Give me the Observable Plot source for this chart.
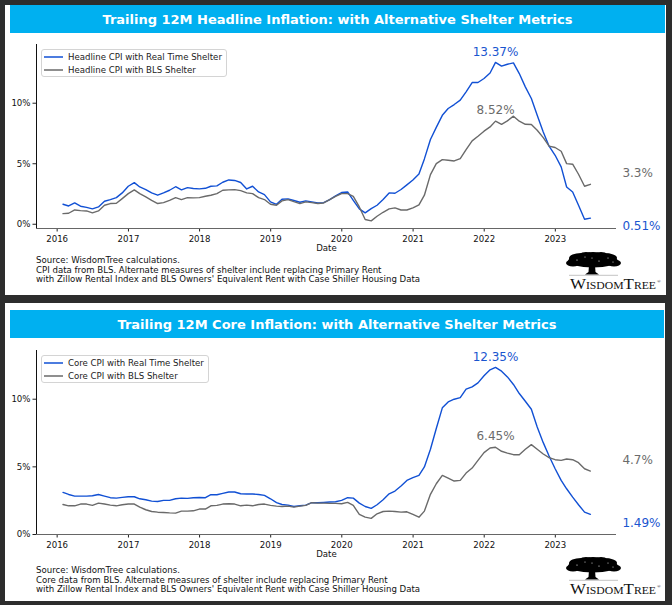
<!DOCTYPE html>
<html>
<head>
<meta charset="utf-8">
<script src="https://cdn.jsdelivr.net/npm/d3@7"></script>
<script src="https://cdn.jsdelivr.net/npm/@observablehq/plot@0.6"></script>
<style>
  html, body { margin: 0; padding: 0; }
  body { width: 672px; height: 605px; background: #2d2d2d; position: relative; overflow: hidden; font-family: "DejaVu Sans", sans-serif; }
  .abs { position: absolute; }
  .panel { background: #ffffff; }
  .bar { background: #00b0f0; color: #fff; font-weight: bold; font-size: 13px; display: flex; align-items: center; justify-content: center; white-space: nowrap; }
  .foot { font-size: 8.6px; line-height: 9.6px; color: #111; white-space: nowrap; }
  .legend { border: 1px solid #d4d4d4; border-radius: 3px; background: rgba(255,255,255,0.85); box-sizing: border-box; }
  .legend .row { position: absolute; left: 0; font-size: 8.6px; color: #222; white-space: nowrap; height: 12px; line-height: 12px; }
</style>
</head>
<body>
<script>
// ---------- Data ----------
const startMonth = [2016, 0];   // Jan 2016 (month-end observations)
const monthCount = 90;          // through Jun 2023
const yearTicks = [2016, 2017, 2018, 2019, 2020, 2021, 2022, 2023];

const headlineRealTime = [
  1.65, 1.51, 1.76, 1.49, 1.40, 1.27, 1.43, 1.90, 2.04, 2.20, 2.59, 3.14,
  3.44, 3.08, 2.87, 2.59, 2.40, 2.59, 2.81, 3.10, 2.84, 3.03, 2.95, 2.92,
  2.97, 3.14, 3.17, 3.47, 3.66, 3.62, 3.45, 2.92, 3.14, 2.67, 2.45, 1.85,
  1.65, 2.07, 2.10, 1.96, 1.82, 1.93, 1.85, 1.76, 1.79, 2.04, 2.34, 2.62,
  2.67, 1.98, 1.27, 0.94, 1.29, 1.57, 2.04, 2.59, 2.56, 2.87, 3.25, 3.66,
  4.16, 5.40, 7.00, 8.00, 9.00, 9.56, 9.89, 10.25, 10.94, 11.71, 11.71, 12.04,
  12.50, 13.37, 13.06, 13.22, 13.33, 12.45, 11.35, 10.39, 9.00, 7.63, 6.45, 5.70,
  4.74, 3.08, 2.67, 1.57, 0.41, 0.51
];
const headlineBLS = [
  0.88, 0.91, 1.18, 1.13, 1.10, 0.94, 1.10, 1.57, 1.71, 1.74, 2.12, 2.53,
  2.84, 2.53, 2.26, 1.98, 1.71, 1.79, 1.98, 2.20, 2.04, 2.20, 2.18, 2.20,
  2.31, 2.40, 2.53, 2.81, 2.84, 2.86, 2.78, 2.59, 2.53, 2.20, 2.04, 1.65,
  1.57, 1.93, 2.04, 1.87, 1.71, 1.85, 1.79, 1.71, 1.76, 2.04, 2.31, 2.53,
  2.53, 2.31, 1.43, 0.39, 0.28, 0.66, 0.99, 1.27, 1.35, 1.18, 1.18, 1.35,
  1.60, 2.40, 4.10, 5.01, 5.34, 5.29, 5.23, 5.43, 6.17, 6.89, 7.27, 7.69,
  8.04, 8.52, 8.26, 8.54, 8.93, 8.51, 8.26, 8.24, 7.77, 7.16, 6.45, 6.34,
  6.03, 5.01, 4.96, 4.13, 3.14, 3.30
];
const coreRealTime = [
  3.11, 2.96, 2.84, 2.84, 2.84, 2.86, 2.96, 2.84, 2.72, 2.69, 2.74, 2.79,
  2.79, 2.64, 2.57, 2.47, 2.44, 2.52, 2.52, 2.64, 2.69, 2.67, 2.72, 2.74,
  2.72, 2.94, 2.94, 3.04, 3.14, 3.14, 3.01, 2.99, 2.99, 2.96, 2.89, 2.64,
  2.35, 2.22, 2.17, 2.07, 2.12, 2.17, 2.35, 2.35, 2.37, 2.40, 2.42, 2.52,
  2.72, 2.69, 2.32, 2.07, 1.93, 2.20, 2.57, 3.01, 3.21, 3.58, 4.00, 4.20,
  4.37, 4.99, 6.30, 7.83, 9.36, 9.80, 10.00, 10.12, 10.74, 10.91, 11.21, 11.73,
  12.17, 12.35, 12.07, 11.65, 11.09, 10.42, 9.85, 9.26, 7.95, 6.79, 5.80, 4.86,
  4.00, 3.38, 2.76, 2.20, 1.65, 1.49
];
const coreBLS = [
  2.22, 2.12, 2.12, 2.25, 2.25, 2.15, 2.32, 2.25, 2.17, 2.12, 2.20, 2.25,
  2.25, 2.02, 1.83, 1.70, 1.65, 1.63, 1.60, 1.58, 1.73, 1.73, 1.75, 1.88,
  1.88, 2.12, 2.15, 2.25, 2.27, 2.25, 2.12, 2.17, 2.12, 2.22, 2.25, 2.15,
  2.10, 2.07, 2.10, 2.02, 2.10, 2.15, 2.35, 2.32, 2.32, 2.30, 2.30, 2.27,
  2.37, 2.15, 1.48, 1.28, 1.19, 1.53, 1.70, 1.73, 1.70, 1.65, 1.68, 1.48,
  1.28, 1.73, 2.97, 3.75, 4.37, 4.17, 3.95, 4.00, 4.54, 4.91, 5.48, 6.05,
  6.39, 6.45, 6.15, 6.02, 5.90, 5.90, 6.30, 6.64, 6.30, 5.95, 5.68, 5.53,
  5.48, 5.58, 5.53, 5.31, 4.86, 4.69
];

const headlineLabels = { peakReal: "13.37%", peakBLS: "8.52%", lastReal: "0.51%", lastBLS: "3.3%" };
const coreLabels = { peakReal: "12.35%", peakBLS: "6.45%", lastReal: "1.49%", lastBLS: "4.7%" };
const peakIndex = 73; // Feb 2022

const titles = [
  "Trailing 12M Headline Inflation: with Alternative Shelter Metrics",
  "Trailing 12M Core Inflation: with Alternative Shelter Metrics"
];
const legendNames = [
  ["Headline CPI with Real Time Shelter", "Headline CPI with BLS Shelter"],
  ["Core CPI with Real Time Shelter", "Core CPI with BLS Shelter"]
];
const footers = [
  ["Source: WisdomTree calculations.",
   "CPI data from BLS. Alternate measures of shelter include replacing Primary Rent",
   "with Zillow Rental Index and BLS Owners' Equivalent Rent with Case Shiller Housing Data"],
  ["Source: WisdomTree calculations.",
   "Core data from BLS. Alternate measures of shelter include replacing Primary Rent",
   "with Zillow Rental Index and BLS Owners' Equivalent Rent with Case Shiller Housing Data"]
];

// ---------- Styling ----------
const BLUE = "#1150d4";
const GRAY = "#6a6a6a";
const LABEL_BLUE = "#1a55cf";
const LABEL_GRAY = "#6b6b6b";

const months = d3.range(monthCount).map(i =>
  d3.utcDay.offset(d3.utcMonth.offset(new Date(Date.UTC(startMonth[0], startMonth[1], 1)), i + 1), -1));
const xDomain = [new Date(Date.UTC(2015, 8, 17)), new Date(Date.UTC(2023, 10, 11))];
const yearDates = yearTicks.map(y => new Date(Date.UTC(y, 0, 1)));

function el(tag, cls, style, text) {
  const e = document.createElement(tag);
  if (cls) e.className = cls;
  Object.assign(e.style, style || {});
  if (text != null) e.textContent = text;
  document.body.appendChild(e);
  return e;
}

function chart({ real, bls, labels, yDomain, marginTop, marginBottom, labelDy }) {
  const data = months.map((d, i) => ({ date: d, real: real[i], bls: bls[i] }));
  const last = data[data.length - 1];
  const peak = data[peakIndex];
  return Plot.plot({
    width: 672,
    height: 230,
    marginLeft: 36,
    marginRight: 56,
    marginTop,
    marginBottom,
    style: { fontFamily: "DejaVu Sans, sans-serif", fontSize: "8.6px", color: "#111", background: "transparent", overflow: "visible" },
    x: { type: "utc", domain: xDomain },
    y: { domain: yDomain },
    marks: [
      Plot.axisY({ ticks: [0, 5, 10], tickFormat: d => d + "%", tickSize: 3.5, tickPadding: 2.5, label: null, stroke: "#222" }),
      Plot.axisX({ ticks: yearDates, tickFormat: d3.utcFormat("%Y"), tickSize: 3.5, tickPadding: 3.5, label: null, stroke: "#222" }),
      Plot.text(["Date"], { frameAnchor: "bottom", dy: 22, fill: "#111" }),
      Plot.line(data, { x: "date", y: "real", stroke: BLUE, strokeWidth: 1.4 }),
      Plot.line(data, { x: "date", y: "bls", stroke: GRAY, strokeWidth: 1.4 }),
      Plot.ruleY([yDomain[0]], { stroke: "#666", strokeWidth: 1 }),
      Plot.ruleX([xDomain[0]], { stroke: "#111", strokeWidth: 1 }),
      Plot.text([peak], { x: "date", y: "real", text: () => labels.peakReal, dy: -10, fill: LABEL_BLUE, fontSize: 12 }),
      Plot.text([peak], { x: "date", y: "bls", text: () => labels.peakBLS, dy: -11, fill: LABEL_GRAY, fontSize: 12 }),
      Plot.text([last], { x: "date", y: "bls", text: () => labels.lastBLS, dx: 32, dy: labelDy[0], textAnchor: "start", fill: LABEL_GRAY, fontSize: 12 }),
      Plot.text([last], { x: "date", y: "real", text: () => labels.lastReal, dx: 32, dy: labelDy[1], textAnchor: "start", fill: LABEL_BLUE, fontSize: 12 })
    ]
  });
}

function legend(names, left, top, width) {
  const box = el("div", "abs legend", { left: left + "px", top: top + "px", width: width + "px", height: "28px" });
  const colors = [BLUE, GRAY];
  names.forEach((n, i) => {
    const row = document.createElement("div");
    row.className = "row";
    row.style.top = (1 + i * 12.5) + "px";
    row.innerHTML = `<svg width="24" height="12" style="vertical-align:top"><line x1="2" x2="21" y1="6" y2="6" stroke="${colors[i]}" stroke-width="1.5"/></svg><span style="position:relative;left:2px">${n}</span>`;
    box.appendChild(row);
  });
}

function logo(left, top) {
  const ns = "http://www.w3.org/2000/svg";
  const svg = document.createElementNS(ns, "svg");
  svg.setAttribute("width", 100);
  svg.setAttribute("height", 42);
  svg.style.position = "absolute";
  svg.style.left = left + "px";
  svg.style.top = top + "px";
  svg.innerHTML = `
    <g fill="#000">
      <ellipse cx="27" cy="9" rx="25" ry="6.5"/>
      <ellipse cx="15" cy="6.5" rx="12" ry="5.5"/>
      <ellipse cx="38" cy="6" rx="13" ry="5"/>
      <ellipse cx="27" cy="3.5" rx="10" ry="3.5"/>
      <ellipse cx="7" cy="11" rx="7" ry="3.5"/>
      <ellipse cx="48" cy="11" rx="7" ry="3.5"/>
      <ellipse cx="20" cy="1.8" rx="5" ry="1.8"/>
      <ellipse cx="35" cy="1.6" rx="5" ry="1.6"/>
      <path d="M23 13 L29 13 L29.5 20 L33 22.6 L19 22.6 L22.5 20 Z"/>
    </g>
    <g fill="#fff">
      <circle cx="11" cy="8" r="0.6"/><circle cx="19" cy="5" r="0.5"/><circle cx="33" cy="9" r="0.6"/>
      <circle cx="42" cy="6" r="0.5"/><circle cx="26" cy="6" r="0.5"/><circle cx="47" cy="10" r="0.5"/>
    </g>
    <line x1="3" x2="52" y1="23.3" y2="23.3" stroke="#9a9a9a" stroke-width="0.6"/>
    <text x="4" y="37" font-family="Liberation Serif, serif" font-size="14.5" style="font-variant: small-caps" textLength="86" lengthAdjust="spacingAndGlyphs" fill="#111">WisdomTree</text>
    <text x="91" y="31" font-family="Liberation Serif, serif" font-size="5" fill="#111">®</text>`;
  document.body.appendChild(svg);
}

// ---------- Panel 1 ----------
el("div", "abs panel", { left: "5px", top: "5px", width: "661px", height: "290px" });
el("div", "abs bar", { left: "10px", top: "5px", width: "655px", height: "28px" }, titles[0]);
const c1 = chart({ real: headlineRealTime, bls: headlineBLS, labels: headlineLabels,
  yDomain: [-0.35, 14.85], marginTop: 11, marginBottom: 35, labelDy: [-11, 8] });
c1.style.position = "absolute"; c1.style.left = "0px"; c1.style.top = "33px";
document.body.appendChild(c1);
legend(legendNames[0], 41, 49, 186);
const f1 = el("div", "abs foot", { left: "36px", top: "256px" });
f1.innerHTML = footers[0].join("<br>");
logo(566, 252);

// ---------- Panel 2 ----------
el("div", "abs panel", { left: "5px", top: "303px", width: "660px", height: "298px" });
el("div", "abs bar", { left: "10px", top: "310px", width: "654px", height: "28px" }, titles[1]);
const c2 = chart({ real: coreRealTime, bls: coreBLS, labels: coreLabels,
  yDomain: [0, 13.6], marginTop: 12, marginBottom: 34, labelDy: [-10.5, 9] });
c2.style.position = "absolute"; c2.style.left = "0px"; c2.style.top = "338px";
document.body.appendChild(c2);
legend(legendNames[1], 41, 355, 168);
const f2 = el("div", "abs foot", { left: "36px", top: "566px" });
f2.innerHTML = footers[1].join("<br>");
logo(566, 557);
</script>
</body>
</html>
